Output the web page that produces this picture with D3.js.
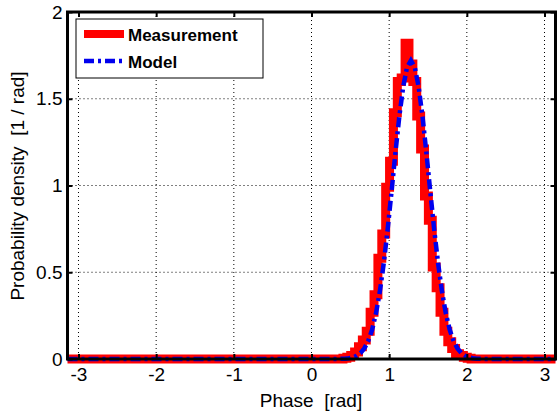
<!DOCTYPE html>
<html><head><meta charset="utf-8">
<script src="https://cdn.jsdelivr.net/npm/d3@7"></script>
<style>body{margin:0;background:#fff}text{font-family:"Liberation Sans",Arial,sans-serif;white-space:pre}</style>
</head><body><svg id="c" width="560" height="414"></svg>
<script>
const xTicks=[-3,-2,-1,0,1,2,3];
const yTicks=[0,0.5,1,1.5,2];
const gridX=[0.33,0.38,0.43,0.48,0.53,0.58,0.63,0.68,0.73,0.78,0.83,0.88,0.93,0.98,1.03,1.08,1.13,1.18,1.23,1.28,1.33,1.38,1.43,1.48,1.53,1.58,1.63,1.68,1.73,1.78,1.83,1.88,1.93,1.98,2.03,2.08,2.13,2.18,2.23];
const modelY=[0.001,0.002,0.0045,0.009,0.018,0.034,0.061,0.103,0.168,0.262,0.389,0.551,0.745,0.962,1.186,1.395,1.567,1.681,1.72,1.681,1.567,1.395,1.186,0.962,0.745,0.551,0.389,0.262,0.168,0.103,0.061,0.034,0.018,0.009,0.0045,0.002,0.001];
const modelX=gridX.slice(1,38);
const measY=[0,0,0.005,0.01,0.02,0.04,0.07,0.11,0.16,0.27,0.37,0.58,0.72,0.99,1.14,1.42,1.60,1.62,1.82,1.70,1.60,1.40,1.21,0.94,0.80,0.53,0.41,0.27,0.16,0.10,0.06,0.03,0.02,0.01,0.005,0,0,0,0];
const xDomain=[-Math.PI,Math.PI], yDomain=[0,2];

const svg=d3.select("#c");
const x=d3.scaleLinear().domain(xDomain).range([67.5,555.5]);
const y=d3.scaleLinear().domain(yDomain).range([359,12]);
const L=x(xDomain[0]),R=x(xDomain[1]),T=y(2),B=y(0);
svg.append("g").selectAll("line").data(xTicks).join("line")
 .attr("x1",d=>x(d)).attr("x2",d=>x(d)).attr("y1",T).attr("y2",B)
 .attr("stroke","#000").attr("stroke-width",1).attr("stroke-dasharray","1,3");
svg.append("g").selectAll("line").data(yTicks).join("line")
 .attr("y1",d=>y(d)).attr("y2",d=>y(d)).attr("x1",L).attr("x2",R)
 .attr("stroke","#000").attr("stroke-width",1).attr("stroke-dasharray","1,3");
const measPts=[[xDomain[0],0]].concat(gridX.map((g,i)=>[g,measY[i]])).concat([[xDomain[1],0]]);
const modelPts=[[xDomain[0],0],[0.33,0]].concat(modelX.map((g,i)=>[g,modelY[i]])).concat([[2.23,0],[xDomain[1],0]]);
svg.append("path").datum(measPts).attr("fill","none").attr("stroke","#ff0000").attr("stroke-width",9)
 .attr("d",d3.line().x(d=>x(d[0])).y(d=>y(d[1])).curve(d3.curveStep));
svg.append("path").datum(modelPts).attr("fill","none").attr("stroke","#0000ee").attr("stroke-width",4.5)
 .attr("stroke-dasharray","10,4,3,4")
 .attr("d",d3.line().x(d=>x(d[0])).y(d=>y(d[1])));
const ax=svg.append("g").attr("transform",`translate(0,${B})`).call(d3.axisBottom(x).tickValues(xTicks).tickSize(-5).tickPadding(9).tickFormat(d=>String(d)));
const at=svg.append("g").attr("transform",`translate(0,${T})`).call(d3.axisTop(x).tickValues(xTicks).tickSize(-5).tickFormat(""));
const ay=svg.append("g").attr("transform",`translate(${L},0)`).call(d3.axisLeft(y).tickValues(yTicks).tickSize(-5).tickPadding(5).tickFormat(d=>String(d)));
const ar=svg.append("g").attr("transform",`translate(${R},0)`).call(d3.axisRight(y).tickValues(yTicks).tickSize(-5).tickFormat(""));
[ax,at,ay,ar].forEach(g=>{g.select(".domain").remove();g.selectAll("line").attr("stroke","#000").attr("stroke-width",2);
 g.selectAll("text").attr("font-size",19).attr("fill","#000");});
svg.append("rect").attr("x",L).attr("y",T).attr("width",R-L).attr("height",B-T).attr("fill","none").attr("stroke","#000").attr("stroke-width",3);
svg.append("text").attr("x",311).attr("y",407).attr("text-anchor","middle").attr("font-size",19).text("Phase  [rad]");
svg.append("text").attr("transform","translate(24,186) rotate(-90)").attr("text-anchor","middle").attr("font-size",19).text("Probability density  [1 / rad]");
const lg=svg.append("g");
lg.append("rect").attr("x",76).attr("y",19).attr("width",187).attr("height",59).attr("fill","#fff").attr("stroke","#000").attr("stroke-width",1);
lg.append("line").attr("x1",84).attr("x2",124).attr("y1",34).attr("y2",34).attr("stroke","#ff0000").attr("stroke-width",8);
lg.append("line").attr("x1",84).attr("x2",124).attr("y1",61).attr("y2",61).attr("stroke","#0000ee").attr("stroke-width",4.5).attr("stroke-dasharray","10,4,3,4");
lg.append("text").attr("x",128).attr("y",41).attr("font-size",17).attr("font-weight","bold").text("Measurement");
lg.append("text").attr("x",128).attr("y",68).attr("font-size",17).attr("font-weight","bold").text("Model");
</script></body></html>
